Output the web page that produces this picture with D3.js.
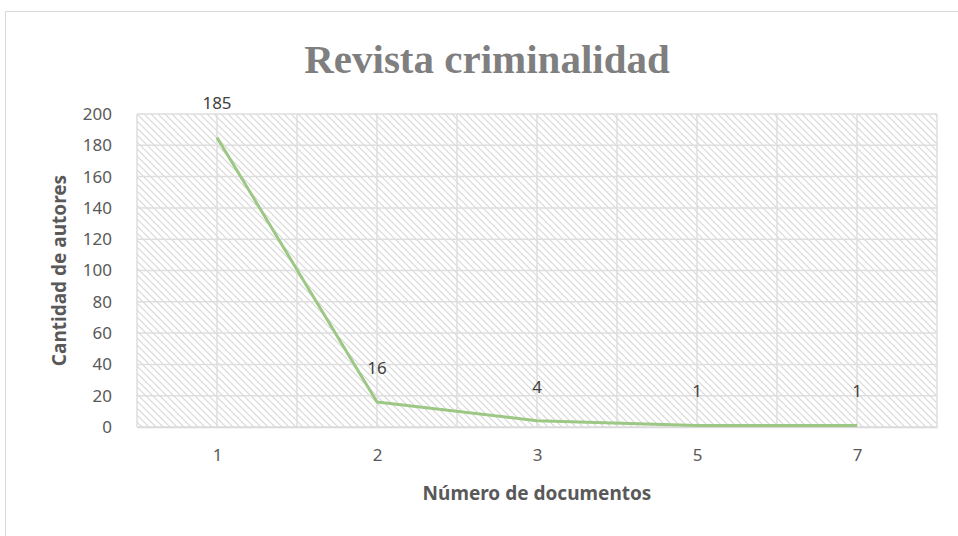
<!DOCTYPE html>
<html>
<head>
<meta charset="utf-8">
<script src="https://cdn.jsdelivr.net/npm/d3@7"></script>
<style>
  body { margin: 0; background: #fff; }
  .canvas svg { display: block; }
</style>
</head>
<body>
<div class="canvas"></div>
<script>
// data
const categories = ['1', '2', '3', '5', '7'];
const authors = [185, 16, 4, 1, 1];
const yTicks = [0, 20, 40, 60, 80, 100, 120, 140, 160, 180, 200];

const width = 958, height = 536;
const margin = { top: 114, right: 21, bottom: 109, left: 137 };
const graphWidth = width - margin.left - margin.right;
const graphHeight = height - margin.top - margin.bottom;
const sansFont = 'Noto Sans, sans-serif';

const svg = d3.select('.canvas')
  .append('svg')
  .attr('width', width)
  .attr('height', height);

// chart border
svg.append('rect')
  .attr('x', 5.5).attr('y', 11.5)
  .attr('width', 960).attr('height', 540)
  .attr('fill', '#fff')
  .attr('stroke', '#d9d9d9');

// hatch pattern for plot area
const defs = svg.append('defs');
const pattern = defs.append('pattern')
  .attr('id', 'hatch')
  .attr('patternUnits', 'userSpaceOnUse')
  .attr('width', 7).attr('height', 7);
pattern.append('path')
  .attr('d', 'M-1,-1 L8,8 M-4,3 L3,10 M4,-3 L10,3')
  .attr('stroke', '#d6d6d6')
  .attr('stroke-width', 1.1);

const graph = svg.append('g')
  .attr('transform', `translate(${margin.left}, ${margin.top})`);

const x = d3.scalePoint().domain(categories).range([0, graphWidth]).padding(0.5);
const y = d3.scaleLinear().domain([0, 200]).range([graphHeight, 0]);
const band = graphWidth / categories.length;

graph.append('rect')
  .attr('width', graphWidth)
  .attr('height', graphHeight)
  .attr('fill', 'url(#hatch)');

// horizontal gridlines
graph.append('g')
  .selectAll('line')
  .data(yTicks)
  .enter().append('line')
    .attr('x1', 0).attr('x2', graphWidth)
    .attr('y1', d => y(d)).attr('y2', d => y(d))
    .attr('stroke', '#dedede')
    .attr('stroke-width', 1.5);

// vertical gridlines: category centres and boundaries
const vLines = [];
categories.forEach((c, i) => { vLines.push(i * band); vLines.push(x(c)); });
vLines.push(graphWidth);
graph.append('g')
  .selectAll('line')
  .data(vLines)
  .enter().append('line')
    .attr('x1', d => d).attr('x2', d => d)
    .attr('y1', 0).attr('y2', graphHeight)
    .attr('stroke', '#dedede')
    .attr('stroke-width', 1.5);

// axes
const xAxis = d3.axisBottom(x).tickSize(0).tickPadding(22);
const yAxis = d3.axisLeft(y).tickValues(yTicks).tickSize(0).tickPadding(25);

const xAxisGroup = graph.append('g')
  .attr('transform', `translate(0, ${graphHeight})`)
  .call(xAxis);
const yAxisGroup = graph.append('g').call(yAxis);

[xAxisGroup, yAxisGroup].forEach(g => {
  g.select('.domain').attr('stroke', '#d9d9d9').attr('stroke-width', 1.5);
  g.selectAll('text')
    .attr('fill', '#595959')
    .style('font-family', sansFont)
    .style('font-size', '17px');
});
yAxisGroup.select('.domain').remove();

// line
const line = d3.line()
  .x((d, i) => x(categories[i]))
  .y(d => y(d));

graph.append('path')
  .datum(authors)
  .attr('fill', 'none')
  .attr('stroke', '#9cc784')
  .attr('stroke-width', 3)
  .attr('stroke-linejoin', 'round')
  .attr('d', line);

// data labels
graph.append('g')
  .selectAll('text')
  .data(authors)
  .enter().append('text')
    .attr('x', (d, i) => x(categories[i]))
    .attr('y', d => y(d) - 28)
    .attr('text-anchor', 'middle')
    .attr('fill', '#404040')
    .style('font-family', sansFont)
    .style('font-size', '17px')
    .text(d => d);

// title
svg.append('text')
  .attr('x', 487).attr('y', 73)
  .attr('text-anchor', 'middle')
  .attr('fill', '#7f7f7f')
  .style('font-family', 'Liberation Serif, serif')
  .style('font-weight', 'bold')
  .style('font-size', '41px')
  .text('Revista criminalidad');

// axis titles
svg.append('text')
  .attr('x', margin.left + graphWidth / 2).attr('y', 500)
  .attr('text-anchor', 'middle')
  .attr('fill', '#595959')
  .style('font-family', sansFont)
  .style('font-weight', 'bold')
  .style('font-size', '19px')
  .text('Número de documentos');

svg.append('text')
  .attr('transform', `translate(66, ${margin.top + graphHeight / 2}) rotate(-90)`)
  .attr('text-anchor', 'middle')
  .attr('fill', '#595959')
  .style('font-family', sansFont)
  .style('font-weight', 'bold')
  .style('font-size', '19px')
  .text('Cantidad de autores');
</script>
</body>
</html>
